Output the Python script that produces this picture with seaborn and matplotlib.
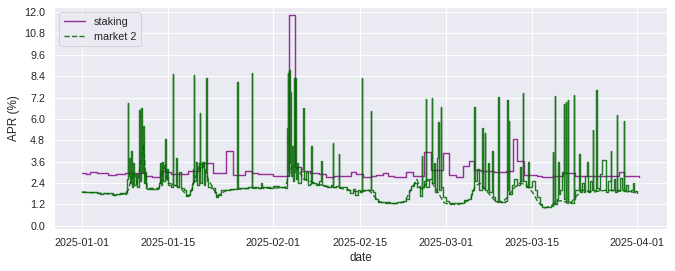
import numpy as np
import pandas as pd
import matplotlib
matplotlib.use("Agg")
import matplotlib.pyplot as plt
import matplotlib.dates as mdates
import seaborn as sns

# ---- data (day offsets from 2025-01-01) ----
start_date = "2025-01-01"

staking_days = [0, 0.6, 1.3, 2.4, 4.3, 5.6, 7.0, 10.2, 11.3, 12.6,
                13.4, 14.5, 17.2, 19.1, 19.6, 21.2, 23.4, 24.5, 26.4, 27.5,
                28.5, 31.0, 33.5, 34.6, 35.5, 36.9, 38.5, 39.6, 40.9, 43.6,
                44.4, 45.5, 46.9, 47.7, 48.8, 49.6, 50.6, 52.5, 53.6, 55.5,
                56.6, 58.5, 59.5, 60.6, 61.7, 62.8, 63.6, 64.7, 66.8, 68.7,
                69.8, 70.6, 71.7, 73.8, 74.6, 76.3, 77.9, 80.0, 83.3, 87.1,
                87.9, 90.3]
staking_apr = [2.98, 2.9, 3.02, 2.95, 2.86, 2.9, 2.98, 2.82, 2.76, 3.1,
               3.0, 2.91, 3.1, 3.3, 3.51, 2.95, 4.2, 2.86, 3.1, 2.95,
               2.91, 2.82, 11.83, 3.32, 3.1, 2.98, 2.88, 2.72, 2.82, 3.0,
               2.88, 2.72, 2.82, 2.86, 2.97, 2.82, 2.76, 3.04, 2.82, 4.13,
               3.15, 4.09, 2.87, 2.76, 3.38, 3.66, 3.15, 3.06, 3.0, 3.06,
               4.88, 3.62, 2.87, 2.82, 2.72, 2.82, 2.95, 2.8, 2.82, 3.0,
               2.78, 2.75]

market1_days = [
    0, 0.5, 1.5, 2.5, 3.0, 3.5, 4.5, 5.0, 5.5, 6.2, 7.0, 7.2,
    7.3, 7.45, 7.5, 7.55, 7.7, 7.8, 8.0, 8.1, 8.3, 8.5, 8.8, 9.0, 9.2, 9.3, 9.4, 9.6, 9.7, 9.9, 10.0, 10.2, 10.4,
    10.6, 11.5, 12.3,
    12.5, 12.7, 12.8, 13.0, 13.2, 13.5, 13.6, 13.8, 14.0,
    14.5, 14.7, 14.75, 15.0, 15.3, 15.4, 15.8, 16.0, 16.5, 16.8, 17.2, 17.5,
    17.8, 18.0, 18.1, 18.15, 18.5, 18.7, 19.0, 19.1, 19.2, 19.5, 19.8, 20.0, 20.2, 20.25, 20.5, 21.0,
    21.5, 21.8, 22.1, 22.5, 23.0,
    24.0, 25.0, 25.15, 25.25, 25.3, 26.0, 27.0, 27.6, 27.65,
    28.5, 29.0, 29.2, 30.5, 31.0, 32.0, 33.0,
    33.2, 33.3, 33.4, 33.45, 33.6, 33.7, 33.8, 33.9, 34.1, 34.2, 34.4, 34.5, 34.6, 34.7, 34.9, 35.1, 35.5, 35.9, 36.0, 36.3, 36.6,
    37.0, 37.2, 37.25, 37.5, 38.0, 38.5, 38.8, 38.85, 39.2, 39.8, 40.3, 40.7, 40.75, 41.2, 41.6, 41.65, 42.0,
    42.5, 43.0, 43.5, 44.0, 44.3, 44.7, 45.0, 45.4, 45.45, 46.0, 46.8, 46.85, 47.2,
    47.5, 48.0, 49.0, 50.0, 51.0, 52.0, 52.5, 53.0, 53.3, 53.8, 54.3, 54.8,
    55.0, 55.1, 55.15, 55.5, 55.8, 55.85, 56.2, 56.7, 56.75, 57.0, 57.2, 57.5, 57.7, 57.9, 58.2, 58.25, 58.5,
    59.0, 59.5, 60.5, 61.5, 62.0, 62.5, 63.0, 63.3,
    63.6, 63.65, 64.0, 64.3, 64.9, 65.0, 65.3, 65.4, 65.8, 66.0, 66.5, 66.6, 67.0,
    67.3, 67.5, 67.55, 68.0, 68.5, 68.9, 69.0, 69.2, 69.3,
    69.7, 70.0, 70.5, 71.0, 71.2, 71.5, 71.55, 72.0, 72.3, 72.5, 73.0, 73.5, 73.8,
    74.2, 74.5, 75.5, 76.0, 76.3, 76.35, 76.6, 76.65, 77.0, 77.2, 77.3,
    77.5, 77.8, 78.1, 78.15, 78.4, 78.45, 78.8, 78.85, 79.2, 79.7, 79.75, 80.0,
    80.3, 80.6, 80.7, 81.0, 81.3, 81.6, 81.9, 82.0, 82.4, 82.7, 82.8, 82.9, 83.4, 83.45, 83.8, 84.0, 84.3, 84.9,
    85.0, 85.3, 85.7, 85.8, 86.2, 86.4, 86.7, 86.75, 87.2, 87.5, 87.8, 87.85, 88.2, 88.5, 89.0, 89.3, 89.5, 90.0,
]
market1_apr = [
    1.92, 1.88, 1.9, 1.85, 1.78, 1.82, 1.85, 1.75, 1.8, 1.82, 1.8, 1.85,
    2.6, 3.0, 6.87, 2.8, 3.8, 2.4, 4.2, 2.2, 3.5, 2.3, 2.9, 2.2, 6.4, 6.5, 2.5, 6.6, 3.0, 5.6, 2.4, 3.0, 2.1,
    2.05, 2.08, 2.1,
    2.4, 3.5, 2.3, 3.6, 2.5, 4.9, 2.6, 3.2, 2.3,
    2.2, 8.54, 2.3, 2.3, 3.8, 2.2, 3.0, 2.1, 2.0, 1.7, 1.75, 2.0,
    2.4, 3.2, 8.45, 2.5, 3.6, 2.3, 3.5, 6.33, 2.4, 3.6, 2.3, 3.0, 8.32, 2.5, 2.2, 2.1,
    1.9, 1.6, 1.75, 2.0, 2.0,
    2.05, 2.05, 8.1, 5.3, 2.1, 2.1, 2.15, 8.55, 2.15,
    2.1, 2.4, 2.15, 2.1, 2.25, 2.2, 2.1,
    3.5, 5.5, 8.55, 3.0, 8.77, 3.5, 7.5, 2.8, 4.5, 2.5, 8.3, 3.0, 8.3, 2.6, 3.5, 2.4, 3.2, 6.63, 2.6, 3.0, 2.3,
    2.35, 4.5, 2.4, 2.4, 2.3, 2.5, 3.66, 2.3, 2.25, 2.2, 2.3, 4.64, 2.2, 2.25, 4.05, 2.2, 2.15,
    2.15, 2.0, 1.85, 2.05, 1.75, 2.0, 1.9, 8.32, 2.0, 2.0, 6.42, 2.0, 1.9,
    1.5, 1.35, 1.32, 1.3, 1.35, 1.4, 1.5, 2.0, 2.25, 2.4, 2.2, 1.7,
    1.7, 3.94, 2.2, 2.5, 7.1, 2.2, 2.6, 7.19, 2.4, 3.5, 1.9, 3.8, 5.82, 2.0, 6.67, 2.2, 1.6,
    1.4, 1.3, 1.28, 1.3, 1.45, 1.5, 1.8, 2.0,
    6.67, 2.5, 3.2, 2.0, 5.5, 2.1, 5.2, 2.0, 3.5, 1.9, 4.2, 1.6, 1.4,
    1.35, 7.23, 1.4, 1.35, 1.4, 7.04, 2.0, 5.9, 1.8,
    2.3, 2.6, 2.3, 3.3, 2.5, 7.45, 2.5, 2.2, 3.6, 2.2, 2.5, 2.0, 1.6,
    1.2, 1.05, 1.05, 1.1, 4.13, 1.2, 7.3, 1.2, 1.5, 3.6, 1.8,
    2.0, 3.0, 6.82, 1.5, 6.95, 1.4, 7.08, 1.35, 1.3, 7.32, 1.5, 2.0,
    2.0, 4.05, 1.9, 2.4, 1.9, 2.8, 3.57, 1.9, 2.5, 2.0, 5.39, 2.0, 7.64, 2.1, 2.0, 2.9, 3.7, 3.7,
    1.9, 2.5, 4.2, 2.0, 2.6, 1.9, 6.2, 2.0, 2.7, 2.0, 5.88, 2.0, 2.3, 1.95, 2.0, 2.4, 1.95, 1.82,
]

market2_days = [0, 2, 4, 5.5, 7, 7.5, 8, 8.5, 9, 9.5,
                10, 10.3, 10.6, 12.5, 13, 13.5, 14, 15, 16, 16.8,
                17.3, 17.8, 18.5, 19.2, 19.8, 20.5, 21.3, 21.9, 22.5, 23.5,
                27, 30, 33, 33.5, 34, 34.5, 35, 35.5, 36, 37,
                38, 40, 42, 44, 45, 46.5, 47.3, 48, 49, 51,
                52.3, 53, 53.6, 54.3, 54.8, 55.3, 56, 56.8, 57.5, 58,
                58.7, 59.5, 61, 62, 63, 63.7, 64.5, 65.5, 66.2, 67,
                68, 69, 70, 71, 72, 73, 74, 75, 76, 77,
                78, 79, 80, 81, 83, 85, 87, 89, 90]
market2_apr = [1.9, 1.85, 1.8, 1.72, 1.8, 2.0, 2.6, 3.0, 2.4, 3.5,
               4.6, 3.0, 2.1, 2.1, 2.8, 3.4, 2.4, 2.3, 2.1, 1.8,
               1.65, 2.0, 2.8, 3.5, 3.3, 2.6, 2.1, 1.65, 1.8, 2.0,
               2.1, 2.1, 2.15, 2.8, 3.3, 3.4, 3.2, 2.9, 2.6, 2.5,
               2.35, 2.2, 2.1, 1.95, 1.9, 2.0, 1.7, 1.4, 1.25, 1.25,
               1.35, 1.8, 2.2, 2.6, 2.2, 2.0, 2.6, 2.4, 2.0, 1.7,
               1.3, 1.2, 1.2, 1.3, 1.5, 2.2, 2.4, 2.0, 1.7, 1.4,
               1.3, 1.6, 2.1, 2.4, 2.3, 1.9, 1.3, 1.0, 1.1, 1.4,
               1.4, 1.2, 1.6, 2.0, 1.9, 2.0, 1.95, 1.9, 1.85]

y_ticks = [0.0, 1.2, 2.4, 3.6, 4.8, 6.0, 7.2, 8.4, 9.6, 10.8, 12.0]
x_tick_labels = ["2025-01-01", "2025-01-15", "2025-02-01", "2025-02-15",
                 "2025-03-01", "2025-03-15", "2025-04-01"]


def to_dates(days):
    return pd.Timestamp(start_date) + pd.to_timedelta(days, unit="D")


sns.set_theme(style="darkgrid")
plt.rcParams["font.family"] = ["Liberation Sans", "DejaVu Sans"]

fig, ax = plt.subplots(figsize=(10, 271 / 67.5), dpi=67.5)
fig.subplots_adjust(left=0.08, right=0.988, top=0.974, bottom=0.155)

sns.lineplot(x=to_dates(staking_days), y=staking_apr, ax=ax, color="purple",
             alpha=0.8, drawstyle="steps-post", label="staking", lw=1.5)
sns.lineplot(x=to_dates(market1_days), y=market1_apr, ax=ax, color="darkgreen",
             alpha=0.85, drawstyle="steps-post", label="_market 1", lw=1.5)
sns.lineplot(x=to_dates(market2_days), y=market2_apr, ax=ax, color="darkgreen",
             alpha=0.85, linestyle="--", label="market 2", lw=1.5)

ax.set_ylim(-0.18, 12.28)
ax.set_yticks(y_ticks)
ax.set_yticklabels([f"{v:.1f}" for v in y_ticks])
ax.set_xticks(pd.to_datetime(x_tick_labels))
ax.xaxis.set_major_formatter(mdates.DateFormatter("%Y-%m-%d"))
ax.tick_params(labelsize=11.5)
ax.set_xlabel("date", fontsize=12.5)
ax.set_ylabel("APR (%)", fontsize=12.5)
ax.legend(loc="upper left", fontsize=11.5)

fig.savefig("out.png", dpi=67.5)
